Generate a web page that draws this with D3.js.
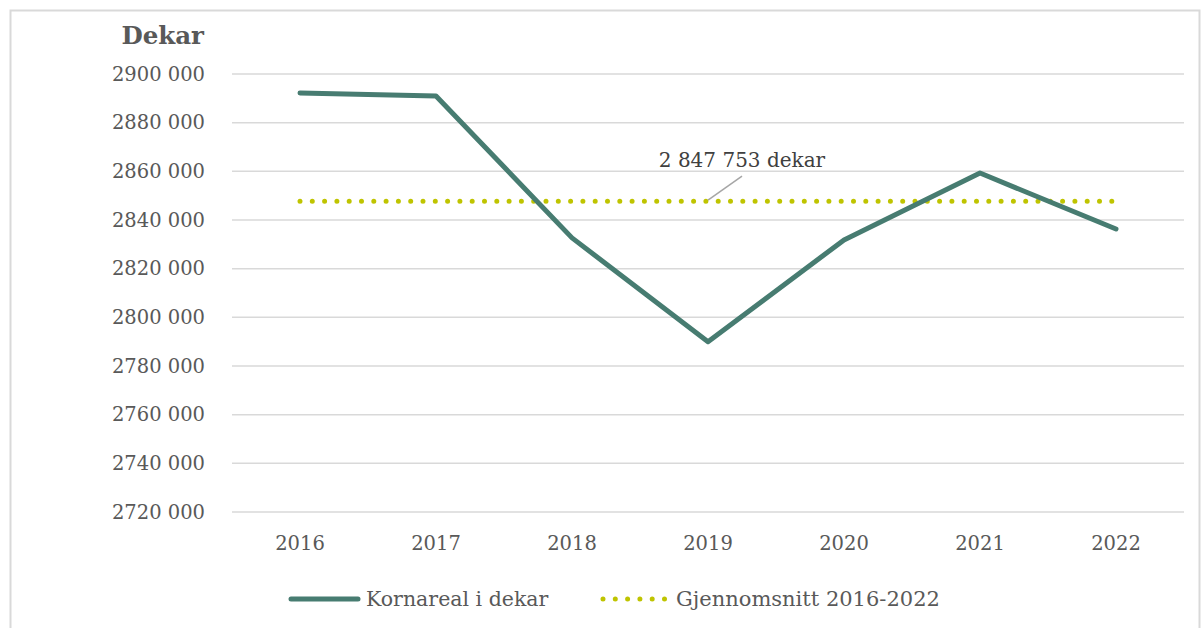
<!DOCTYPE html>
<html>
<head>
<meta charset="utf-8">
<script src="https://cdn.jsdelivr.net/npm/d3@7"></script>
<style>
  body { margin: 0; background: #fff; }
  text { font-family: "DejaVu Serif", Georgia, serif; fill: #595959; }
</style>
</head>
<body>
<div id="chart"></div>
<script>
// Data
const years = ["2016", "2017", "2018", "2019", "2020", "2021", "2022"];
const kornareal = [2892200, 2891000, 2832650, 2790000, 2831800, 2859300, 2836300];
const average = 2847753;
const yTicks = [2720000, 2740000, 2760000, 2780000, 2800000, 2820000, 2840000, 2860000, 2880000, 2900000];
const seriesNames = ["Kornareal i dekar", "Gjennomsnitt 2016-2022"];

const W = 1202, H = 628;
const margin = { top: 74, right: 18, bottom: 116, left: 232 };
const width = W - margin.left - margin.right;
const height = H - margin.top - margin.bottom;

const svg = d3.select("#chart").append("svg")
    .attr("width", W)
    .attr("height", H);

// outer frame
svg.append("rect")
    .attr("x", 10.5).attr("y", 10.5)
    .attr("width", 1189).attr("height", 700)
    .attr("fill", "none")
    .attr("stroke", "#d9d9d9")
    .attr("stroke-width", 2);

const g = svg.append("g")
    .attr("transform", `translate(${margin.left},${margin.top})`);

const x = d3.scaleBand().domain(years).range([0, width]);
const y = d3.scaleLinear().domain([2720000, 2900000]).range([height, 0]);
const cx = d => x(d) + x.bandwidth() / 2;

// "2 847 753" style (space thousands separator)
const spaced = v => d3.format(",")(v).replace(/,/g, " ");
// tick labels: "2900 000"
const tickFmt = v => { const s = String(v); return s.slice(0, s.length - 3) + " " + s.slice(-3); };

// gridlines
g.append("g")
    .selectAll("line")
    .data(yTicks)
    .join("line")
    .attr("x1", 0).attr("x2", width)
    .attr("y1", d => y(d)).attr("y2", d => y(d))
    .attr("stroke", "#d9d9d9")
    .attr("stroke-width", 1.5);

// y labels
g.append("g")
    .selectAll("text")
    .data(yTicks)
    .join("text")
    .attr("x", -27)
    .attr("y", d => y(d))
    .attr("dy", "0.35em")
    .attr("text-anchor", "end")
    .attr("font-size", 19.5)
    .text(tickFmt);

// x labels
g.append("g")
    .selectAll("text")
    .data(years)
    .join("text")
    .attr("x", d => cx(d))
    .attr("y", height + 38)
    .attr("text-anchor", "middle")
    .attr("font-size", 19.5)
    .text(d => d);

// axis title
svg.append("text")
    .attr("x", 204)
    .attr("y", 44)
    .attr("text-anchor", "end")
    .attr("font-size", 24.5)
    .attr("font-weight", "bold")
    .text("Dekar");

// average line (dotted)
g.append("line")
    .attr("x1", cx(years[0]))
    .attr("x2", cx(years[years.length - 1]))
    .attr("y1", y(average)).attr("y2", y(average))
    .attr("stroke", "#bfc400")
    .attr("stroke-width", 5)
    .attr("stroke-linecap", "round")
    .attr("stroke-dasharray", "0 12.3");

// main line
const line = d3.line()
    .x((d, i) => cx(years[i]))
    .y(d => y(d));

g.append("path")
    .datum(kornareal)
    .attr("d", line)
    .attr("fill", "none")
    .attr("stroke", "#477c71")
    .attr("stroke-width", 5)
    .attr("stroke-linecap", "round")
    .attr("stroke-linejoin", "round");

// annotation
const ax = cx("2019");
g.append("line")
    .attr("x1", ax).attr("y1", y(average) - 1)
    .attr("x2", ax + 34).attr("y2", y(average) - 25)
    .attr("stroke", "#a6a6a6")
    .attr("stroke-width", 1.5);

g.append("text")
    .attr("x", ax + 34)
    .attr("y", y(average) - 34)
    .attr("text-anchor", "middle")
    .attr("font-size", 20)
    .style("fill", "#404040")
    .text(spaced(average) + " dekar");

// legend
const leg = svg.append("g").attr("transform", "translate(0,599)");
leg.append("line")
    .attr("x1", 291).attr("x2", 358)
    .attr("y1", 0).attr("y2", 0)
    .attr("stroke", "#477c71")
    .attr("stroke-width", 5)
    .attr("stroke-linecap", "round");
leg.append("text")
    .attr("x", 366).attr("y", 0)
    .attr("dy", "0.35em")
    .attr("font-size", 20.5)
    .text(seriesNames[0]);
leg.append("line")
    .attr("x1", 603).attr("x2", 666)
    .attr("y1", 0).attr("y2", 0)
    .attr("stroke", "#bfc400")
    .attr("stroke-width", 5)
    .attr("stroke-linecap", "round")
    .attr("stroke-dasharray", "0 12.3");
leg.append("text")
    .attr("x", 676).attr("y", 0)
    .attr("dy", "0.35em")
    .attr("font-size", 21)
    .text(seriesNames[1]);
</script>
</body>
</html>
